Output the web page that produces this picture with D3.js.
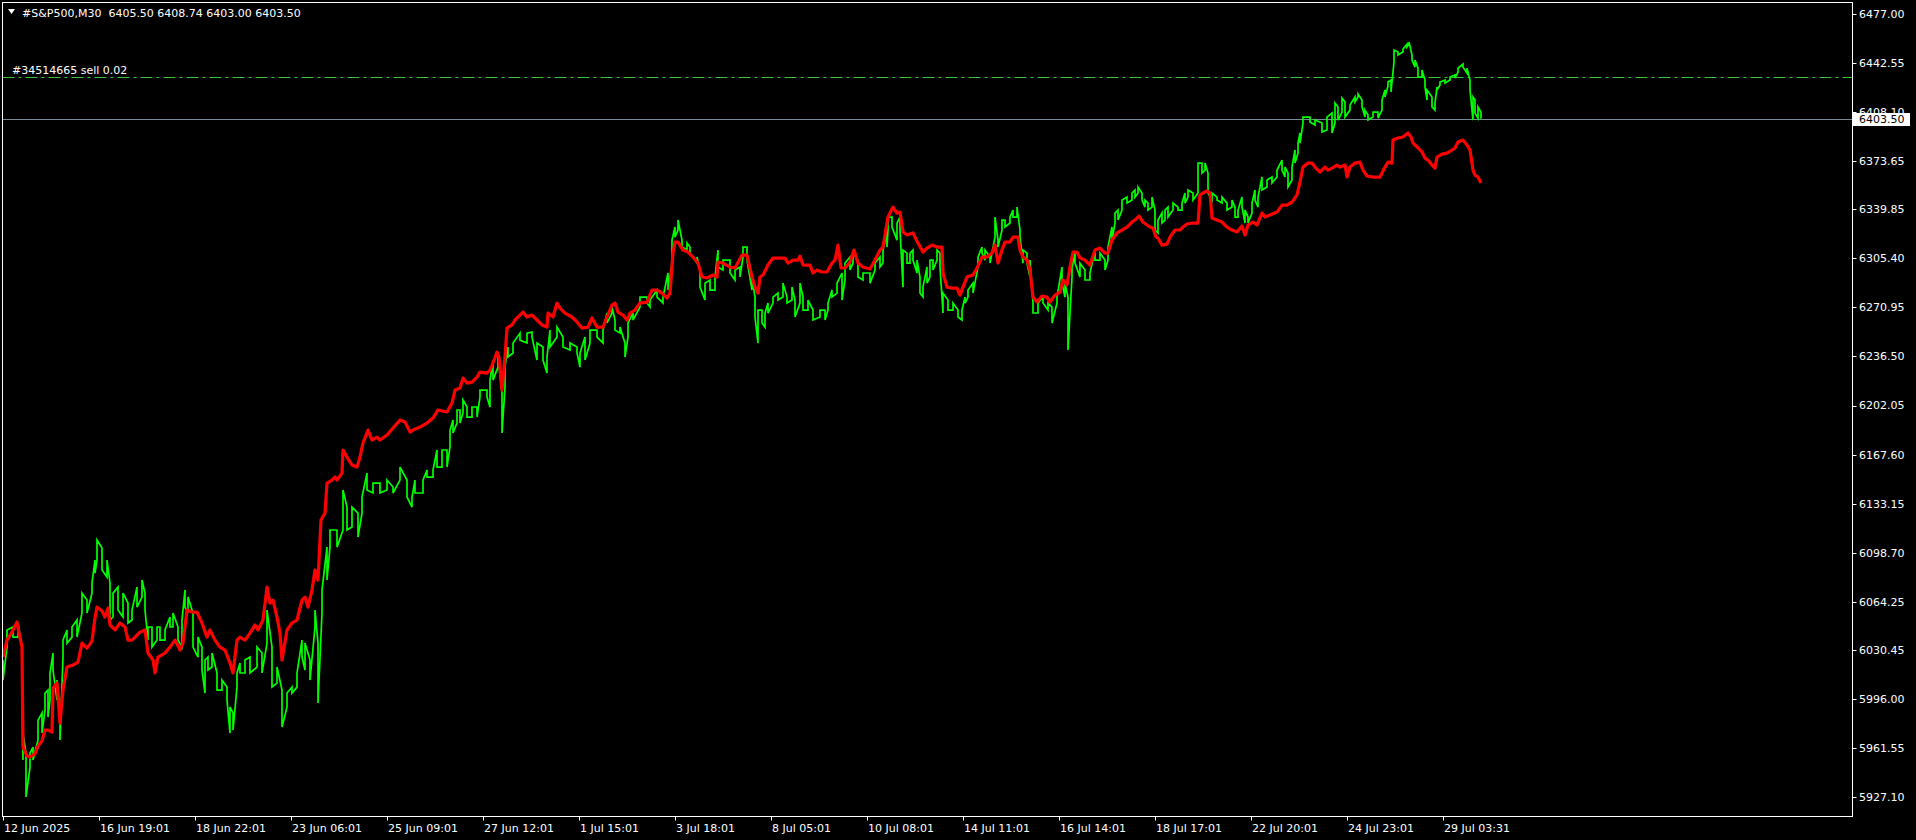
<html>
<head>
  <title>#S&amp;P500,M30</title>
  <script src='https://d3js.org/d3.v7.min.js'></script>
</head>
<style type="text/css">
body { margin: 0; background: #000; }
text { font-family: "DejaVu Sans", sans-serif; font-size: 11px; fill: #fff; }
</style>
<body>
<script>

var symbol = "#S&P500,M30",
    ohlc = [6405.50, 6408.74, 6403.00, 6403.50],
    orderLabel = "#34514665 sell 0.02",
    orderPrice = 6432.5,
    bidPrice = 6403.50;

var timeLabels = ["12 Jun 2025", "16 Jun 19:01", "18 Jun 22:01", "23 Jun 06:01", "25 Jun 09:01",
                  "27 Jun 12:01", "1 Jul 15:01", "3 Jul 18:01", "8 Jul 05:01", "10 Jul 08:01",
                  "14 Jul 11:01", "16 Jul 14:01", "18 Jul 17:01", "22 Jul 20:01", "24 Jul 23:01",
                  "29 Jul 03:31"];
var timeLabelBars = [0, 96, 192, 288, 384, 480, 576, 672, 768, 864, 960, 1056, 1152, 1248, 1344, 1440];

var priceTicks = [6477.00, 6442.55, 6408.10, 6373.65, 6339.85, 6305.40, 6270.95, 6236.50, 6202.05,
                  6167.60, 6133.15, 6098.70, 6064.25, 6030.45, 5996.00, 5961.55, 5927.10];

// price readings: [bar, high, low]
var greenBars = [
 [0,6023.3,6009.2],[4,6044.4,6032.4],[10,6046.5,6039.4],[15,6049.3,6039.4],[19,6032.4,5995.2],[20,5972.0,5953.1],
 [23,5958.0,5927.1],[27,5958.0,5948.1],[30,5962.2,5953.1],[35,5981.1,5967.1],[39,5986.1,5972.0],[42,6000.1,5988.2],
 [45,6002.2,5983.2],[47,6014.2,5995.2],[50,6028.2,6016.3],[54,6009.2,5995.2],[57,5988.2,5967.1],[60,6037.3,6025.4],
 [64,6044.4,6035.2],[69,6046.5,6039.4],[74,6051.4,6039.4],[79,6070.3,6056.3],[84,6065.4,6056.3],[89,6077.4,6070.3],
 [92,6093.5,6084.4],[94,6107.6,6093.5],[99,6101.9,6086.5],[104,6093.5,6081.6],[107,6077.4,6051.4],[110,6070.3,6053.5],
 [115,6074.5,6058.4],[120,6070.3,6053.5],[125,6063.3,6049.3],[129,6058.4,6051.4],[134,6074.5,6060.5],[139,6079.5,6067.5],
 [142,6070.3,6058.4],[145,6046.5,6037.3],[149,6046.5,6032.4],[154,6046.5,6037.3],[157,6046.5,6037.3],[162,6044.4,6037.3],
 [167,6053.5,6046.5],[170,6056.3,6046.5],[175,6046.5,6037.3],[179,6051.4,6032.4],[182,6072.4,6060.5],[185,6067.5,6056.3],
 [190,6056.3,6032.4],[195,6039.4,6025.4],[199,6032.4,6016.3],[202,6023.3,6000.1],[205,6025.4,6016.3],[209,6028.2,6018.4],
 [214,6014.2,6002.2],[219,6009.2,6002.2],[224,6004.3,5995.2],[227,5990.3,5972.0],[230,5986.1,5974.1],[234,6014.2,6004.3],
 [237,6021.2,6014.2],[242,6023.3,6014.2],[247,6025.4,6014.2],[254,6032.4,6018.4],[259,6028.2,6014.2],[264,6058.4,6035.2],
 [269,6032.4,6004.3],[274,6018.4,6007.1],[279,6002.2,5976.2],[284,6000.1,5990.3],[289,6004.3,6000.1],[294,6014.2,6004.3],
 [299,6037.3,6025.4],[302,6035.2,6016.3],[307,6023.3,6009.2],[312,6058.4,6046.5],[315,6035.2,5993.1],[319,6072.4,6056.3],
 [324,6102.6,6079.5],[327,6114.6,6102.6],[334,6114.6,6102.6],[340,6142.7,6114.6],[344,6130.7,6114.6],[349,6130.7,6116.7],
 [355,6126.5,6109.7],[359,6137.8,6126.5],[364,6154.6,6142.7],[370,6147.6,6140.6],[377,6147.6,6140.6],[384,6149.7,6142.7],
 [390,6144.8,6140.6],[397,6158.8,6149.7],[404,6149.7,6137.8],[409,6137.8,6130.7],[412,6149.7,6140.6],[420,6149.7,6140.6],
 [424,6156.7,6151.8],[430,6156.7,6151.8],[434,6170.8,6158.8],[439,6170.8,6158.8],[444,6170.8,6158.8],[447,6184.8,6172.9],
 [450,6191.8,6182.7],[454,6198.9,6189.7],[457,6198.9,6189.7],[460,6205.9,6196.8],[464,6201.0,6193.9],[469,6201.0,6193.9],
 [474,6201.0,6193.9],[477,6212.9,6208.0],[484,6212.9,6208.0],[487,6219.9,6201.0],[490,6234.0,6219.9],[495,6236.1,6229.1],
 [499,6210.8,6182.7],[502,6229.1,6215.0],[505,6243.1,6236.1],[510,6245.9,6238.9],[517,6252.9,6248.0],[524,6252.9,6245.9],
 [529,6253.6,6250.1],[534,6245.9,6234.0],[540,6243.1,6234.0],[544,6236.1,6224.8],[547,6255.0,6243.1],[554,6257.1,6250.1],
 [560,6250.1,6243.1],[567,6245.9,6241.0],[574,6243.1,6238.9],[577,6238.9,6229.1],[582,6250.1,6234.0],[587,6255.0,6245.9],
 [594,6255.0,6250.1],[600,6255.0,6245.9],[604,6267.0,6260.0],[609,6271.2,6267.0],[612,6262.1,6255.0],[617,6257.1,6252.9],
 [622,6245.9,6236.1],[625,6260.0,6250.1],[630,6267.0,6262.1],[637,6278.2,6271.2],[644,6278.2,6274.0],[647,6276.1,6271.2],
 [654,6283.1,6278.2],[660,6278.2,6274.0],[665,6295.1,6283.1],[669,6318.2,6302.1],[672,6327.4,6320.3],[675,6332.3,6325.3],
 [679,6318.2,6313.3],[684,6316.1,6311.2],[687,6313.3,6309.1],[694,6306.3,6302.1],[697,6297.2,6285.2],[702,6288.0,6276.1],
 [707,6290.2,6283.1],[712,6292.3,6283.1],[715,6311.2,6299.3],[720,6304.2,6297.2],[727,6304.2,6295.1],[732,6297.2,6290.2],
 [737,6299.3,6292.3],[740,6313.3,6306.3],[744,6313.3,6304.2],[749,6292.3,6283.1],[752,6278.2,6264.2],[755,6269.1,6245.9],
 [759,6269.1,6260.0],[762,6267.0,6257.1],[765,6274.0,6267.0],[770,6278.2,6274.0],[775,6281.0,6276.1],[780,6288.0,6278.2],
 [784,6278.2,6274.0],[789,6285.2,6276.1],[792,6276.1,6264.2],[797,6288.0,6274.0],[800,6278.2,6269.1],[805,6276.1,6269.1],
 [810,6269.1,6262.1],[817,6269.1,6264.2],[822,6269.1,6262.1],[825,6274.0,6269.1],[829,6283.1,6278.2],[834,6288.0,6281.0],
 [839,6295.1,6276.1],[842,6302.1,6290.2],[847,6306.3,6297.2],[850,6311.2,6302.1],[855,6302.1,6292.3],[860,6295.1,6290.2],
 [867,6295.1,6288.0],[872,6302.1,6297.2],[877,6306.3,6299.3],[880,6311.2,6302.1],[884,6323.2,6313.3],[885,6334.4,6325.3],
 [889,6334.4,6327.4],[894,6330.2,6318.2],[897,6334.4,6325.3],[900,6311.2,6285.2],[904,6309.1,6302.1],[907,6309.1,6302.1],
 [910,6311.2,6304.2],[914,6304.2,6295.1],[917,6292.3,6281.0],[920,6285.2,6278.2],[924,6299.3,6288.0],[927,6304.2,6292.3],
 [930,6304.2,6297.2],[934,6311.2,6304.2],[937,6309.1,6299.3],[940,6281.0,6267.0],[945,6276.1,6269.1],[950,6274.0,6269.1],
 [955,6269.1,6264.2],[959,6269.1,6262.1],[962,6278.2,6274.0],[965,6283.1,6278.2],[970,6288.0,6281.0],[975,6306.3,6299.3],
 [979,6313.3,6309.1],[982,6311.2,6304.2],[987,6306.3,6302.1],[992,6334.4,6320.3],[995,6318.2,6313.3],[999,6332.3,6325.3],
 [1002,6332.3,6327.4],[1007,6334.4,6330.2],[1010,6339.3,6334.4],[1014,6341.4,6334.4],[1017,6325.3,6320.3],[1020,6311.2,6302.1],
 [1024,6309.1,6302.1],[1027,6304.2,6292.3],[1030,6274.0,6267.0],[1035,6274.0,6267.0],[1040,6278.2,6274.0],[1045,6274.0,6269.1],
 [1049,6271.2,6260.0],[1054,6278.2,6274.0],[1059,6299.3,6288.0],[1062,6288.0,6278.2],[1065,6278.2,6241.0],[1069,6299.3,6292.3],
 [1072,6309.1,6302.1],[1077,6302.1,6292.3],[1082,6297.2,6290.2],[1087,6295.1,6290.2],[1092,6311.2,6304.2],[1097,6309.1,6304.2],
 [1102,6304.2,6297.2],[1105,6313.3,6304.2],[1109,6327.4,6318.2],[1112,6337.2,6330.2],[1115,6339.3,6332.3],[1119,6346.3,6339.3],
 [1124,6348.4,6344.2],[1129,6351.3,6346.3],[1132,6353.4,6348.4],[1135,6355.5,6351.3],[1139,6351.3,6346.3],[1142,6346.3,6341.4],
 [1145,6344.2,6339.3],[1149,6348.4,6341.4],[1152,6339.3,6325.3],[1155,6332.3,6323.2],[1159,6337.2,6330.2],[1162,6339.3,6332.3],
 [1165,6341.4,6334.4],[1170,6344.2,6339.3],[1175,6341.4,6339.3],[1179,6344.2,6339.3],[1182,6351.3,6344.2],[1185,6353.4,6348.4],
 [1190,6351.3,6346.3],[1195,6372.3,6351.3],[1199,6372.3,6365.3],[1202,6372.3,6367.4],[1205,6365.3,6351.3],[1209,6351.3,6346.3],
 [1214,6348.4,6346.3],[1219,6348.4,6344.2],[1224,6344.2,6339.3],[1229,6346.3,6341.4],[1232,6341.4,6334.4],[1235,6339.3,6334.4],
 [1239,6348.4,6341.4],[1242,6339.3,6330.2],[1245,6334.4,6330.2],[1249,6344.2,6337.2],[1252,6353.4,6346.3],[1255,6348.4,6341.4],
 [1259,6362.5,6353.4],[1264,6360.4,6355.5],[1269,6362.5,6358.3],[1274,6367.4,6362.5],[1279,6374.4,6367.4],[1282,6369.5,6362.5],
 [1285,6365.3,6355.5],[1289,6369.5,6360.4],[1292,6381.5,6372.3],[1295,6386.4,6379.3],[1297,6393.4,6386.4],[1300,6404.6,6400.4],
 [1307,6404.6,6401.1],[1312,6402.5,6399.0],[1319,6400.4,6394.1],[1324,6404.6,6395.5],[1329,6407.4,6393.4],[1332,6414.5,6400.4],
 [1335,6411.7,6402.5],[1339,6418.0,6408.1],[1342,6415.2,6404.6],[1347,6413.1,6409.5],[1352,6418.7,6415.2],[1355,6420.8,6418.7],
 [1359,6416.6,6411.7],[1362,6409.5,6404.6],[1365,6406.0,6402.5],[1370,6408.1,6404.6],[1375,6408.1,6403.9],[1379,6416.6,6409.5],
 [1382,6423.6,6418.7],[1385,6429.2,6426.4],[1388,6430.6,6422.2],[1391,6451.7,6443.3],[1395,6450.3,6448.2],[1400,6452.4,6450.3],
 [1404,6455.9,6453.8],[1406,6457.3,6455.9],[1409,6448.2,6444.7],[1412,6444.7,6439.7],[1415,6439.0,6432.7],[1419,6437.6,6432.7],
 [1422,6430.6,6425.7],[1424,6423.6,6416.6],[1429,6418.7,6411.7],[1432,6414.5,6409.5],[1434,6425.7,6423.6],[1437,6429.2,6427.1],
 [1442,6430.6,6428.5],[1447,6432.7,6430.6],[1452,6434.1,6432.0],[1455,6439.0,6436.2],[1460,6441.9,6439.7],[1464,6439.0,6435.5],
 [1467,6430.6,6423.6],[1470,6418.7,6402.5],[1472,6416.6,6407.4],[1475,6411.7,6403.9],[1478,6408.1,6403.5]
];

// indicator readings: [bar, value]
var redLine = [
 [0,6025.4],[4,6037.3],[9,6042.9],[14,6050.0],[15,6045.8],[19,6032.4],[20,5962.2],[24,5955.9],[27,5955.2],[32,5957.3],
 [35,5962.9],[39,5966.4],[42,5974.1],[45,5974.1],[49,5972.7],[50,6003.6],[54,6007.1],[57,5979.0],[60,6002.2],[64,6018.4],
 [70,6019.8],[75,6021.9],[79,6035.2],[84,6031.7],[89,6036.6],[92,6052.8],[94,6060.5],[99,6057.7],[102,6053.5],[105,6059.8],
 [107,6047.9],[112,6044.4],[117,6049.3],[122,6046.5],[125,6037.3],[129,6037.3],[132,6039.4],[137,6042.9],[142,6044.4],
 [145,6028.2],[150,6023.3],[152,6014.2],[155,6025.4],[162,6028.2],[167,6032.4],[172,6037.3],[177,6030.3],[180,6035.2],
 [184,6058.4],[189,6057.0],[194,6057.0],[199,6049.3],[204,6039.4],[207,6044.4],[212,6037.3],[217,6032.4],[222,6030.3],
 [227,6021.2],[230,6014.2],[234,6037.3],[237,6039.4],[242,6037.3],[247,6042.2],[252,6047.9],[255,6044.4],[260,6051.4],
 [264,6074.5],[267,6063.3],[270,6065.4],[274,6053.5],[277,6042.2],[279,6023.3],[284,6044.4],[289,6049.3],[294,6051.4],
 [299,6065.4],[302,6067.5],[305,6060.5],[309,6072.4],[312,6086.5],[315,6079.5],[318,6121.6],[322,6126.5],[324,6147.6],
 [329,6149.7],[332,6151.8],[334,6149.7],[339,6154.6],[340,6170.8],[344,6165.9],[349,6160.2],[354,6158.8],[357,6165.9],
 [360,6175.7],[365,6184.8],[369,6177.8],[374,6179.9],[377,6177.8],[384,6181.3],[390,6186.2],[397,6191.8],[402,6190.4],
 [407,6183.4],[410,6184.8],[417,6186.9],[424,6189.7],[430,6193.2],[435,6198.9],[444,6197.5],[449,6203.8],[452,6212.9],
 [457,6214.3],[460,6221.3],[464,6217.8],[469,6218.5],[474,6222.0],[477,6225.5],[484,6224.8],[487,6226.9],[490,6231.9],
 [494,6239.6],[496,6236.1],[499,6212.9],[502,6236.1],[504,6256.4],[509,6258.6],[512,6262.1],[517,6265.6],[520,6267.7],
 [524,6264.2],[529,6265.6],[534,6262.1],[539,6258.6],[544,6257.1],[545,6267.0],[550,6264.2],[554,6274.0],[557,6270.5],
 [562,6267.0],[569,6264.2],[574,6260.7],[579,6256.4],[585,6257.1],[589,6263.5],[594,6257.1],[600,6257.1],[604,6264.2],
 [609,6272.6],[612,6274.0],[615,6267.7],[620,6265.6],[624,6262.1],[627,6267.0],[632,6269.1],[637,6274.0],[644,6274.7],
 [649,6283.1],[654,6283.1],[659,6281.0],[664,6277.5],[667,6281.0],[670,6309.1],[672,6316.8],[675,6316.8],[680,6311.2],
 [685,6309.8],[690,6306.3],[695,6302.1],[699,6292.3],[704,6291.6],[710,6293.7],[714,6292.3],[715,6302.8],[720,6302.1],
 [727,6299.3],[732,6298.6],[739,6307.7],[744,6307.7],[749,6292.3],[752,6285.2],[755,6281.0],[757,6292.3],[760,6293.7],
 [765,6300.7],[770,6305.6],[777,6305.6],[782,6305.6],[785,6302.1],[790,6304.2],[795,6304.2],[797,6307.0],[800,6300.7],
 [807,6300.7],[810,6295.1],[814,6297.2],[819,6295.8],[824,6295.8],[829,6302.1],[832,6304.2],[835,6314.7],[838,6298.6],
 [842,6298.6],[847,6302.8],[851,6311.2],[855,6302.1],[860,6299.3],[867,6297.9],[872,6304.2],[877,6311.2],[880,6313.3],
 [885,6334.4],[890,6341.4],[894,6337.2],[897,6337.9],[900,6323.9],[904,6321.8],[910,6323.2],[912,6320.3],[915,6316.1],
 [920,6309.8],[924,6312.6],[929,6314.7],[934,6313.3],[939,6313.3],[940,6295.1],[944,6285.2],[949,6284.5],[954,6284.5],
 [957,6279.6],[960,6285.2],[964,6292.3],[970,6293.7],[974,6298.6],[979,6306.3],[984,6306.3],[989,6309.1],[992,6314.7],
 [995,6302.1],[999,6311.2],[1002,6316.8],[1007,6316.8],[1010,6320.3],[1015,6320.3],[1017,6311.2],[1020,6306.3],[1024,6304.2],
 [1027,6297.2],[1030,6278.2],[1034,6274.7],[1039,6278.9],[1044,6278.2],[1047,6274.7],[1052,6279.6],[1057,6281.7],[1060,6290.2],
 [1064,6286.6],[1067,6299.3],[1070,6309.8],[1074,6309.8],[1077,6305.6],[1082,6304.2],[1087,6300.7],[1092,6311.2],[1097,6312.6],
 [1102,6309.1],[1105,6309.1],[1109,6318.2],[1114,6323.2],[1119,6325.3],[1124,6327.4],[1129,6330.9],[1132,6332.3],[1136,6335.1],
 [1140,6330.9],[1144,6328.8],[1147,6327.4],[1150,6326.7],[1153,6320.3],[1155,6319.7],[1159,6314.7],[1164,6315.4],[1167,6320.3],
 [1172,6325.3],[1177,6325.3],[1180,6327.4],[1184,6329.5],[1190,6330.2],[1195,6330.2],[1197,6349.9],[1200,6351.3],[1204,6352.7],
 [1207,6351.3],[1209,6333.7],[1214,6332.3],[1219,6330.9],[1224,6327.4],[1229,6325.3],[1234,6323.9],[1239,6328.1],[1242,6321.8],
 [1245,6328.8],[1250,6330.9],[1254,6328.8],[1259,6337.2],[1262,6334.4],[1267,6335.8],[1274,6337.9],[1279,6342.8],[1284,6342.8],
 [1289,6344.9],[1294,6349.9],[1297,6359.0],[1300,6369.5],[1305,6372.3],[1309,6372.3],[1312,6369.5],[1317,6366.0],[1322,6369.5],
 [1325,6367.4],[1329,6368.8],[1334,6370.9],[1337,6369.5],[1342,6370.9],[1344,6362.5],[1347,6369.5],[1352,6372.3],[1357,6373.0],
 [1360,6367.4],[1364,6363.2],[1370,6362.5],[1377,6362.5],[1382,6369.5],[1385,6373.0],[1389,6372.3],[1390,6388.5],[1395,6389.9],
 [1400,6390.6],[1405,6393.4],[1408,6390.6],[1410,6386.4],[1415,6382.9],[1419,6380.1],[1422,6375.8],[1425,6374.4],[1429,6370.9],
 [1432,6368.8],[1434,6376.5],[1439,6378.6],[1444,6379.3],[1449,6381.5],[1452,6382.9],[1455,6387.1],[1460,6388.5],[1464,6385.0],
 [1467,6381.5],[1470,6367.4],[1472,6363.9],[1475,6362.5],[1478,6358.3]
];

var width = 1916,
    height = 840,
    frame = {left: 2.5, top: 2.5, right: 1852.5, bottom: 816.5};

var x = d3.scaleLinear().domain([0, 1849]).range([3, 1852]);
var y = d3.scaleLinear().domain([5927.10, 6477.00]).range([797, 14]);

var svg = d3.select('body')
          .append('svg')
          .attr('width', width)
          .attr('height', height);

svg.append('rect')
   .attr('width', width)
   .attr('height', height)
   .attr('fill', '#000');

var plot = svg.append('g');

// order line (dash-dot)
plot.append('line')
    .attr('x1', frame.left)
    .attr('x2', frame.right)
    .attr('y1', Math.round(y(orderPrice)) + 0.5)
    .attr('y2', Math.round(y(orderPrice)) + 0.5)
    .attr('stroke', '#3cc43c')
    .attr('stroke-dasharray', '12,4,3,4');

plot.append('text')
    .attr('x', 12)
    .attr('y', Math.round(y(orderPrice)) - 3)
    .text(orderLabel);

// bid line
plot.append('line')
    .attr('x1', frame.left)
    .attr('x2', frame.right)
    .attr('y1', Math.round(y(bidPrice)) + 0.5)
    .attr('y2', Math.round(y(bidPrice)) + 0.5)
    .attr('stroke', '#778899');

var linePath = d3.line()
    .x(function(d) { return x(d[0]); })
    .y(function(d) { return y(d[1]); });

// green price, drawn through each reading's high and low
var greenPts = [];
greenBars.forEach(function(d, i) {
  if (i % 2 === 0) { greenPts.push([d[0], d[1]]); greenPts.push([d[0], d[2]]); }
  else { greenPts.push([d[0], d[2]]); greenPts.push([d[0], d[1]]); }
});

plot.append('path')
    .datum(greenPts)
    .attr('d', linePath)
    .attr('fill', 'none')
    .attr('stroke', '#00ff00')
    .attr('stroke-width', 1.7);

// red indicator
plot.append('path')
    .datum(redLine)
    .attr('d', linePath)
    .attr('fill', 'none')
    .attr('stroke', '#ff0000')
    .attr('stroke-width', 3.2)
    .attr('stroke-linejoin', 'round');

// frame
svg.append('rect')
   .attr('x', frame.left)
   .attr('y', frame.top)
   .attr('width', frame.right - frame.left)
   .attr('height', frame.bottom - frame.top)
   .attr('fill', 'none')
   .attr('stroke', '#fff');

// price axis
var yAxis = svg.append('g');
yAxis.selectAll('line')
     .data(priceTicks)
     .enter().append('line')
     .attr('x1', frame.right)
     .attr('x2', frame.right + 4)
     .attr('y1', function(d) { return Math.round(y(d)) + 0.5; })
     .attr('y2', function(d) { return Math.round(y(d)) + 0.5; })
     .attr('stroke', '#fff');
yAxis.selectAll('text')
     .data(priceTicks)
     .enter().append('text')
     .attr('x', 1859)
     .attr('y', function(d) { return y(d); })
     .attr('dy', '0.36em')
     .text(function(d) { return d.toFixed(2); });

// bid label
svg.append('rect')
   .attr('x', 1853)
   .attr('y', Math.round(y(bidPrice)) - 6)
   .attr('width', 57)
   .attr('height', 13)
   .attr('fill', '#fff');
svg.append('text')
   .attr('x', 1859)
   .attr('y', y(bidPrice))
   .attr('dy', '0.36em')
   .style('fill', '#000')
   .text(bidPrice.toFixed(2));

// time axis
var xAxis = svg.append('g');
xAxis.selectAll('line')
     .data(timeLabelBars)
     .enter().append('line')
     .attr('x1', function(d) { return Math.round(x(d)) + 0.5; })
     .attr('x2', function(d) { return Math.round(x(d)) + 0.5; })
     .attr('y1', frame.bottom)
     .attr('y2', frame.bottom + 4)
     .attr('stroke', '#fff');
xAxis.selectAll('text')
     .data(timeLabelBars)
     .enter().append('text')
     .attr('x', function(d) { return x(d) + 1; })
     .attr('y', 832)
     .text(function(d, i) { return timeLabels[i]; });

// header
svg.append('path')
   .attr('d', 'M8,9L15,9L11.5,14Z')
   .attr('fill', '#fff');
svg.append('text')
   .attr('x', 22)
   .attr('y', 17)
   .attr('xml:space', 'preserve')
   .style('white-space', 'pre')
   .text(symbol + '  ' + ohlc.map(function(d) { return d.toFixed(2); }).join(' '));

</script>
</body>
</html>
